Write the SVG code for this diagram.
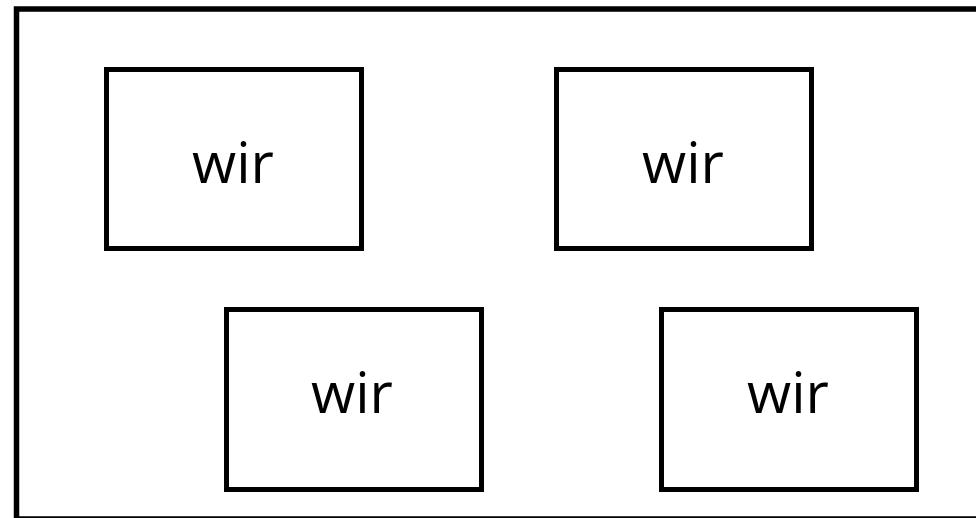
<svg xmlns="http://www.w3.org/2000/svg" width="976" height="518" viewBox="0 0 976 518">
<style>
.frame{fill:none;stroke:#000;stroke-width:5.5}
.box{fill:#fff;stroke:#000;stroke-width:5}
.lbl{font-family:"Open Sans","Liberation Sans",sans-serif;font-size:57px;fill:#000;text-anchor:middle}
</style>
<rect width="976" height="518" fill="#fff"/>
<rect class="frame" x="16.5" y="9" width="1000" height="510"/>
<g id="node1"><rect class="box" x="106.5" y="69.5" width="255" height="179"/><text class="lbl" x="233" y="183">wir</text></g>
<g id="node2"><rect class="box" x="556.5" y="69.5" width="255" height="179"/><text class="lbl" x="683" y="183">wir</text></g>
<g id="node3"><rect class="box" x="226.5" y="309.5" width="255" height="180"/><text class="lbl" x="352" y="413">wir</text></g>
<g id="node4"><rect class="box" x="661.5" y="309.5" width="255" height="180"/><text class="lbl" x="788" y="413">wir</text></g>
<g id="connectors"></g>
</svg>
